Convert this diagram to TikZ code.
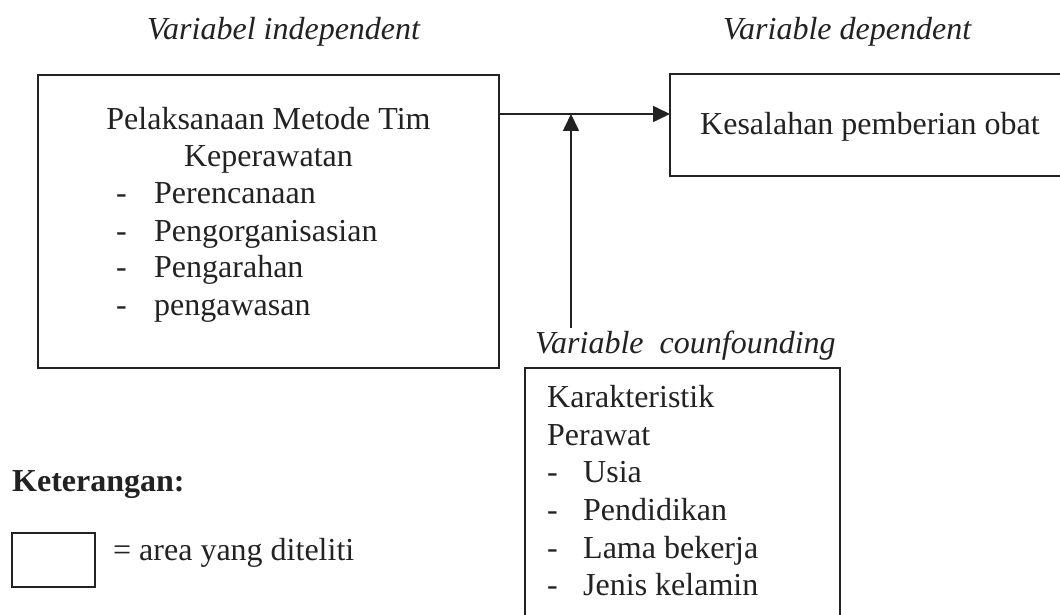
\documentclass[tikz,border=0pt]{standalone}
\usepackage{fontspec}
\setmainfont{Liberation Serif}
\usetikzlibrary{arrows.meta}
\definecolor{ink}{HTML}{222222}
\begin{document}
\begin{tikzpicture}[x=1pt,y=-1pt,
  box/.style={draw=ink, line width=1.7pt, inner sep=0pt, outer sep=0pt, anchor=north west},
  txt/.style={inner sep=0pt, anchor=base west, text=ink, font=\fontsize{32}{37}\selectfont},
  ttl/.style={txt, font=\fontsize{32}{37}\selectfont\itshape},
  arr/.style={draw=ink, line width=1.7pt, -{Triangle[length=17pt,width=16pt]}}]
\clip (0,0) rectangle (1060,615);
\fill[white] (0,0) rectangle (1060,615);
% titles
\node[ttl] (t1) at (147,40) {Variabel independent};
\node[ttl] (t2) at (723,40) {Variable dependent};
\node[ttl] (t3) at (535,353) {Variable\ \ counfounding};
% boxes
\node[box, minimum width=461pt, minimum height=293pt] (indep) at (38,75) {};
\node[box, minimum width=410pt, minimum height=102pt] (dep) at (670,74) {};
\node[box, minimum width=315pt, minimum height=270pt] (conf) at (525,368) {};
\node[box, minimum width=83pt, minimum height=54pt] (leg) at (12,533) {};
% left box text
\node[txt, anchor=base] (a0) at (268.5,130) {Pelaksanaan Metode Tim};
\node[txt, anchor=base] (a1) at (268.5,167) {Keperawatan};
\node[txt] (d1) at (116,203) {-};
\node[txt] (a2) at (154,203) {Perencanaan};
\node[txt] (d2) at (116,241) {-};
\node[txt] (a3) at (154,241) {Pengorganisasian};
\node[txt] (d3) at (116,277) {-};
\node[txt] (a4) at (154,277) {Pengarahan};
\node[txt] (d4) at (116,315) {-};
\node[txt] (a5) at (154,315) {pengawasan};
% right box text
\node[txt] (b0) at (700,135) {Kesalahan pemberian obat};
% bottom box text
\node[txt] (c0) at (547,407) {Karakteristik};
\node[txt] (c1) at (547,445) {Perawat};
\node[txt] (e1) at (547,482) {-};
\node[txt] (c2) at (583,482) {Usia};
\node[txt] (e2) at (547,520) {-};
\node[txt] (c3) at (583,520) {Pendidikan};
\node[txt] (e3) at (547,558) {-};
\node[txt] (c4) at (583,558) {Lama bekerja};
\node[txt] (e4) at (547,595) {-};
\node[txt] (c5) at (583,595) {Jenis kelamin};
% legend
\node[txt, font=\fontsize{32}{37}\selectfont\bfseries] (k) at (12,491) {Keterangan:};
\node[txt] (l1) at (113,560) {= area yang diteliti};
% connectors
\coordinate (j) at (571,114);
\coordinate (cf) at (571,328);
\draw[arr] (indep.east |- j) -- (dep.west |- j);
\draw[arr] (cf) -- (j);
\end{tikzpicture}
\end{document}
